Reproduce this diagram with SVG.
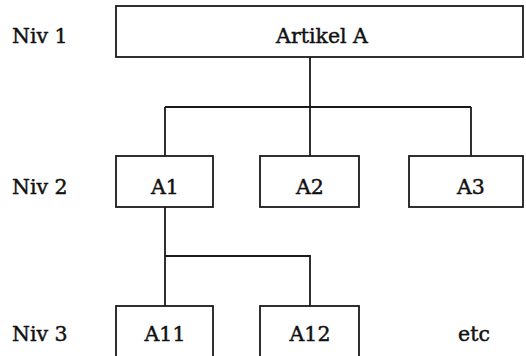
<svg xmlns="http://www.w3.org/2000/svg" width="526" height="356" viewBox="0 0 526 356">
<style>
.box{fill:#fff;stroke:#1a1a1a;stroke-width:1.8}
.ln{fill:none;stroke:#1a1a1a;stroke-width:1.8}
text{font-family:"DejaVu Serif","Liberation Serif",serif;font-size:20.5px;fill:#111;stroke:#111;stroke-width:0.45}
.c{text-anchor:middle}
</style>
<rect width="526" height="356" fill="#fff"/>
<g id="labels">
<text x="12" y="43">Niv 1</text>
<text x="12" y="194">Niv 2</text>
<text x="12" y="341">Niv 3</text>
</g>
<g id="connectors">
<path class="ln" d="M310 57V107M165 107H471M165 107V156M310 107V156M471 107V156"/>
<path class="ln" d="M165 207V256H310V306M165 256V306"/>
</g>
<g id="artikelA"><rect class="box" x="116" y="6" width="407" height="51"/><text class="c" x="322" y="43">Artikel A</text></g>
<g id="A1"><rect class="box" x="116" y="156" width="97" height="51"/><text class="c" x="165" y="194">A1</text></g>
<g id="A2"><rect class="box" x="260" y="156" width="99" height="51"/><text class="c" x="310" y="194">A2</text></g>
<g id="A3"><rect class="box" x="409" y="156" width="114" height="51"/><text class="c" x="471" y="194">A3</text></g>
<g id="A11"><rect class="box" x="116" y="306" width="97" height="60"/><text class="c" x="165" y="341">A11</text></g>
<g id="A12"><rect class="box" x="260" y="306" width="99" height="60"/><text class="c" x="310" y="341">A12</text></g>
<g id="etc"><text class="c" x="474" y="341">etc</text></g>
</svg>
